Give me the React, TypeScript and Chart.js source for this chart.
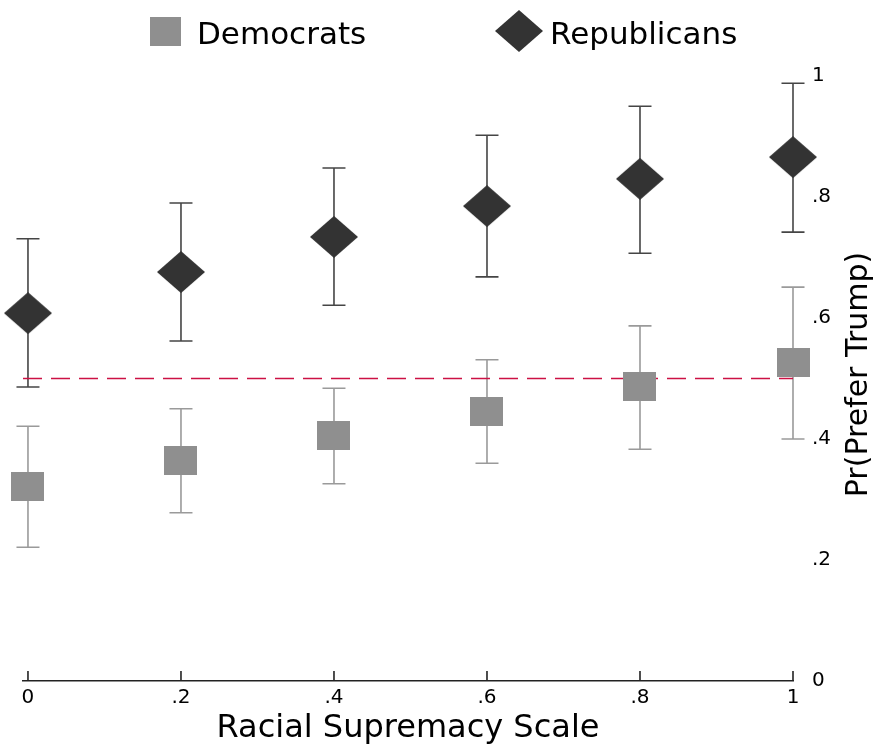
import React, { useEffect, useRef } from 'react';
import { Chart, registerables } from 'chart.js';

Chart.register(...registerables);

// ---- data ----
const xValues = [0, 0.2, 0.4, 0.6, 0.8, 1];
const seriesNames = ['Democrats', 'Republicans'];
const demEstimate = [0.322, 0.364, 0.405, 0.445, 0.486, 0.526];
const demLower = [0.221, 0.278, 0.326, 0.36, 0.383, 0.4];
const demUpper = [0.421, 0.45, 0.484, 0.531, 0.587, 0.651];
const repEstimate = [0.608, 0.676, 0.734, 0.785, 0.83, 0.866];
const repLower = [0.486, 0.562, 0.621, 0.668, 0.707, 0.742];
const repUpper = [0.731, 0.79, 0.848, 0.902, 0.95, 0.988];
const refLineValue = 0.5;
const xTickValues = [0, 0.2, 0.4, 0.6, 0.8, 1];
const xTickLabels = ['0', '.2', '.4', '.6', '.8', '1'];
const yTickValues = [0, 0.2, 0.4, 0.6, 0.8, 1];
const yTickLabels = ['0', '.2', '.4', '.6', '.8', '1'];
const xTitle = 'Racial Supremacy Scale';
const yTitle = 'Pr(Prefer Trump)';
const xMin = -0.0065;
const xMax = 1;

const FONT = '"DejaVu Sans", sans-serif';
const DEM_FILL = '#8f8f8f';
const DEM_BAR = '#9a9a9a';
const REP_FILL = '#333333';
const REP_BAR = '#454545';
const REF_COLOR = '#cc1144';

function makeShape(kind: 'square' | 'diamond', w: number, h: number, color: string) {
  const c = document.createElement('canvas');
  c.width = w;
  c.height = h;
  const ctx = c.getContext('2d')!;
  ctx.fillStyle = color;
  if (kind === 'square') {
    ctx.fillRect(0, 0, w, h);
  } else {
    ctx.beginPath();
    ctx.moveTo(w / 2, 0);
    ctx.lineTo(w, h / 2);
    ctx.lineTo(w / 2, h);
    ctx.lineTo(0, h / 2);
    ctx.closePath();
    ctx.fill();
  }
  return c;
}

export default function App() {
  const ref = useRef<HTMLCanvasElement>(null);

  useEffect(() => {
    document.body.style.margin = '0';
    const canvas = ref.current!;
    const square = makeShape('square', 33, 29, DEM_FILL);
    const diamond = makeShape('diamond', 48, 42, REP_FILL);
    const legendSquare = makeShape('square', 31, 29, DEM_FILL);

    const errorBars = {
      id: 'errorBars',
      beforeDatasetsDraw(chart: any) {
        const { ctx } = chart;
        const xs = chart.scales.x;
        const ys = chart.scales.y;
        const groups = [
          { lo: demLower, hi: demUpper, color: DEM_BAR },
          { lo: repLower, hi: repUpper, color: REP_BAR },
        ];
        ctx.save();
        ctx.lineWidth = 1.6;
        groups.forEach((g) => {
          ctx.strokeStyle = g.color;
          xValues.forEach((xv, i) => {
            const px = xs.getPixelForValue(xv);
            const pl = ys.getPixelForValue(g.lo[i]);
            const ph = ys.getPixelForValue(g.hi[i]);
            const cap = 11.5;
            ctx.beginPath();
            ctx.moveTo(px, pl);
            ctx.lineTo(px, ph);
            ctx.moveTo(px - cap, pl);
            ctx.lineTo(px + cap, pl);
            ctx.moveTo(px - cap, ph);
            ctx.lineTo(px + cap, ph);
            ctx.stroke();
          });
        });
        // x-axis tick marks pointing up
        const base = chart.chartArea.bottom;
        ctx.strokeStyle = '#222';
        ctx.lineWidth = 1.6;
        xTickValues.forEach((v) => {
          const px = xs.getPixelForValue(v);
          ctx.beginPath();
          ctx.moveTo(px, base);
          ctx.lineTo(px, base - 10);
          ctx.stroke();
        });
        ctx.restore();
      },
    };

    const legendAndTitle = {
      id: 'legendAndTitle',
      afterDraw(chart: any) {
        const { ctx } = chart;
        ctx.save();
        ctx.fillStyle = '#000';
        ctx.font = `31px ${FONT}`;
        ctx.textBaseline = 'alphabetic';
        ctx.textAlign = 'left';
        ctx.drawImage(legendSquare, 150, 17);
        ctx.fillText(seriesNames[0], 197, 44);
        ctx.drawImage(diamond, 495, 10);
        ctx.fillText(seriesNames[1], 550, 44);

        ctx.translate(867, 374.5);
        ctx.rotate(-Math.PI / 2);
        ctx.font = `30px ${FONT}`;
        ctx.textAlign = 'center';
        ctx.fillText(yTitle, 0, 0);
        ctx.restore();
      },
    };

    const chart = new Chart(canvas, {
      type: 'scatter',
      data: {
        datasets: [
          {
            label: seriesNames[0],
            data: xValues.map((x, i) => ({ x, y: demEstimate[i] })),
            pointStyle: square as any,
            pointRadius: 16,
            backgroundColor: DEM_FILL,
            borderColor: DEM_FILL,
            clip: false as any,
            order: 1,
          },
          {
            label: seriesNames[1],
            data: xValues.map((x, i) => ({ x, y: repEstimate[i] })),
            pointStyle: diamond as any,
            pointRadius: 22,
            backgroundColor: REP_FILL,
            borderColor: REP_FILL,
            clip: false as any,
            order: 0,
          },
          {
            type: 'line' as any,
            label: 'ref',
            data: [
              { x: xMin, y: refLineValue },
              { x: xMax, y: refLineValue },
            ],
            borderColor: REF_COLOR,
            borderWidth: 1.6,
            borderDash: [19, 9],
            pointRadius: 0,
            fill: false,
            clip: false as any,
            order: 5,
          } as any,
        ],
      },
      options: {
        responsive: false,
        animation: false,
        events: [],
        layout: { padding: { top: 76, left: 21.7, right: 0, bottom: 0 } },
        plugins: { legend: { display: false }, tooltip: { enabled: false } },
        scales: {
          x: {
            type: 'linear',
            min: xMin,
            max: xMax,
            afterBuildTicks: (s: any) => {
              s.ticks = xTickValues.map((v) => ({ value: v }));
            },
            ticks: {
              callback: (_v: any, i: number) => xTickLabels[i],
              font: { family: FONT, size: 20 },
              color: '#000',
              padding: 5,
              maxRotation: 0,
              autoSkip: false,
            },
            grid: { display: false, drawTicks: false },
            border: { display: true, color: '#222', width: 1.6 },
            title: {
              display: true,
              text: xTitle,
              font: { family: FONT, size: 32 },
              color: '#000',
              padding: { top: 0, bottom: -3 },
            },
            afterFit: (s: any) => {
              s.height = 64;
            },
          },
          y: {
            type: 'linear',
            position: 'right',
            min: 0,
            max: 1,
            afterBuildTicks: (s: any) => {
              s.ticks = yTickValues.map((v) => ({ value: v }));
            },
            ticks: {
              callback: (_v: any, i: number) => yTickLabels[i],
              font: { family: FONT, size: 20 },
              color: '#000',
              padding: 19,
            },
            grid: { display: false, drawTicks: false },
            border: { display: false },
            afterFit: (s: any) => {
              s.width = 87;
            },
          },
        },
      } as any,
      plugins: [errorBars, legendAndTitle],
    });

    return () => chart.destroy();
  }, []);

  return (
    <div style={{ position: 'absolute', left: 0, top: 0, width: 880, height: 745, background: '#fff' }}>
      <canvas ref={ref} width={880} height={745} style={{ display: 'block', width: 880, height: 745 }} />
    </div>
  );
}
